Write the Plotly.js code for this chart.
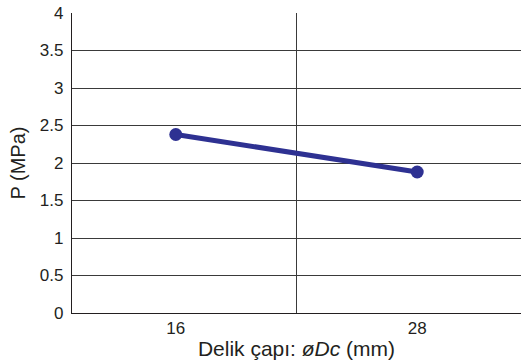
<!DOCTYPE html>
<html>
<head>
<meta charset="utf-8">
<script src="https://cdn.plot.ly/plotly-3.0.1.min.js"></script>
<style>html,body{margin:0;padding:0;background:#fff;}#chart{width:521px;height:362px;}</style>
</head>
<body>
<div id="chart"></div>
<script>
const categories = ['16', '28'];
const pressure = [2.38, 1.88];
const yTicks = [0, 0.5, 1, 1.5, 2, 2.5, 3, 3.5, 4];
const yTickText = ['0', '0.5', '1', '1.5', '2', '2.5', '3', '3.5', '4'];

const trace = {
  x: categories,
  y: pressure,
  type: 'scatter',
  mode: 'lines+markers',
  line: {color: '#2e3192', width: 5},
  marker: {color: '#2e3192', size: 13},
  hoverinfo: 'none'
};

const layout = {
  width: 521, height: 362,
  margin: {l: 72, r: 0, t: 13, b: 49},
  paper_bgcolor: '#fff', plot_bgcolor: '#fff',
  showlegend: false,
  font: {family: 'Liberation Sans, Arial, sans-serif', size: 17, color: '#231f20'},
  xaxis: {
    type: 'category',
    range: [-0.43, 1.43],
    tickson: 'boundaries',
    showgrid: true, gridcolor: '#3a3a3a', gridwidth: 1,
    showline: true, linecolor: '#231f20', linewidth: 1.2,
    zeroline: false, ticks: '', ticklabelstandoff: -1,
    tickfont: {size: 17},
    title: {text: 'Delik çapı: <i>øDc</i> (mm)', font: {size: 21}, standoff: 4}
  },
  yaxis: {
    range: [0, 4],
    tickvals: yTicks, ticktext: yTickText,
    showgrid: true, gridcolor: '#3a3a3a', gridwidth: 1,
    showline: true, linecolor: '#231f20', linewidth: 1.2,
    zeroline: false, ticks: '', ticklabelstandoff: 4,
    tickfont: {size: 17},
    title: {text: 'P (MPa)', font: {size: 20}, standoff: 8}
  }
};

Plotly.newPlot('chart', [trace], layout, {staticPlot: true, displayModeBar: false});
</script>
</body>
</html>
